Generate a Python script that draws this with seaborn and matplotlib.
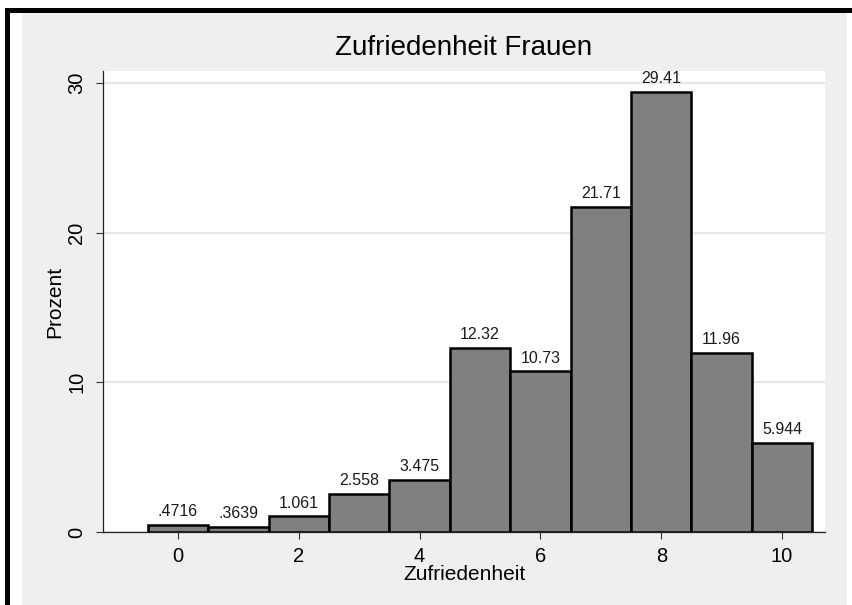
import matplotlib
matplotlib.use("Agg")
import matplotlib.pyplot as plt
import seaborn as sns
import pandas as pd
from matplotlib.patches import Rectangle

# ---- data ----
zufriedenheit = [0, 1, 2, 3, 4, 5, 6, 7, 8, 9, 10]
prozent = [0.4716, 0.3639, 1.061, 2.558, 3.475, 12.32, 10.73, 21.71, 29.41, 11.96, 5.944]
bar_labels = [".4716", ".3639", "1.061", "2.558", "3.475", "12.32", "10.73", "21.71", "29.41", "11.96", "5.944"]
x_ticks = [0, 2, 4, 6, 8, 10]
y_ticks = [0, 10, 20, 30]
title = "Zufriedenheit Frauen"
x_label = "Zufriedenheit"
y_label = "Prozent"

df = pd.DataFrame({"Zufriedenheit": zufriedenheit, "Prozent": prozent})

sns.set_theme(style="white")
plt.rcParams["font.family"] = ["Liberation Sans", "DejaVu Sans"]
plt.rcParams["text.color"] = "black"
plt.rcParams["axes.labelcolor"] = "black"
plt.rcParams["xtick.labelcolor"] = "black"
plt.rcParams["ytick.labelcolor"] = "black"

W, H = 852, 605
fig = plt.figure(figsize=(W / 100, H / 100), dpi=100)
fig.patch.set_facecolor("white")

def px_rect(x0, y0, x1, y1, color):
    # pixel coords measured from top-left
    fig.patches.append(Rectangle((x0 / W, 1 - y1 / H), (x1 - x0) / W, (y1 - y0) / H,
                                 transform=fig.transFigure, facecolor=color,
                                 edgecolor="none", zorder=-10))

px_rect(22, 13, 847, 605, "#efefef")   # outer gray
px_rect(5, 8, 852, 13, "black")        # top border
px_rect(5, 8, 10, 605, "black")        # left border

ax = fig.add_axes([103 / W, 1 - 532 / H, (825 - 103) / W, (532 - 71) / H])
ax.set_facecolor("white")

sns.barplot(data=df, x="Zufriedenheit", y="Prozent", native_scale=True, width=1.0,
            color="#808080", saturation=1, edgecolor="black", linewidth=1.8, ax=ax,
            zorder=3)

ax.bar_label(ax.containers[0], labels=bar_labels, padding=4, fontsize=11.5, color="#1a1a1a")

ax.set_xlim(-1.24, 10.71)
ax.set_ylim(0, 30.8)
ax.set_xticks(x_ticks)
ax.set_yticks(y_ticks)
ax.set_yticklabels([str(v) for v in y_ticks], rotation=90, va="center")
ax.tick_params(axis="both", which="both", length=5, width=0.8, color="#333333",
               labelsize=14.5, direction="out", bottom=True, left=True)
ax.tick_params(axis="x", pad=6)
ax.tick_params(axis="y", pad=7)

ax.yaxis.grid(True, color="#e6e6e6", linewidth=1.6, zorder=0)
ax.set_axisbelow(True)

for s in ["top", "right"]:
    ax.spines[s].set_visible(False)
for s in ["left", "bottom"]:
    ax.spines[s].set_color("#222222")
    ax.spines[s].set_linewidth(0.9)

ax.set_xlabel(x_label, fontsize=15, labelpad=-1)
ax.set_ylabel(y_label, fontsize=15, labelpad=2)
fig.text(464 / W, 1 - 48 / H, title, ha="center", va="center", fontsize=20)

fig.savefig("out.png", dpi=100, facecolor=fig.get_facecolor())
